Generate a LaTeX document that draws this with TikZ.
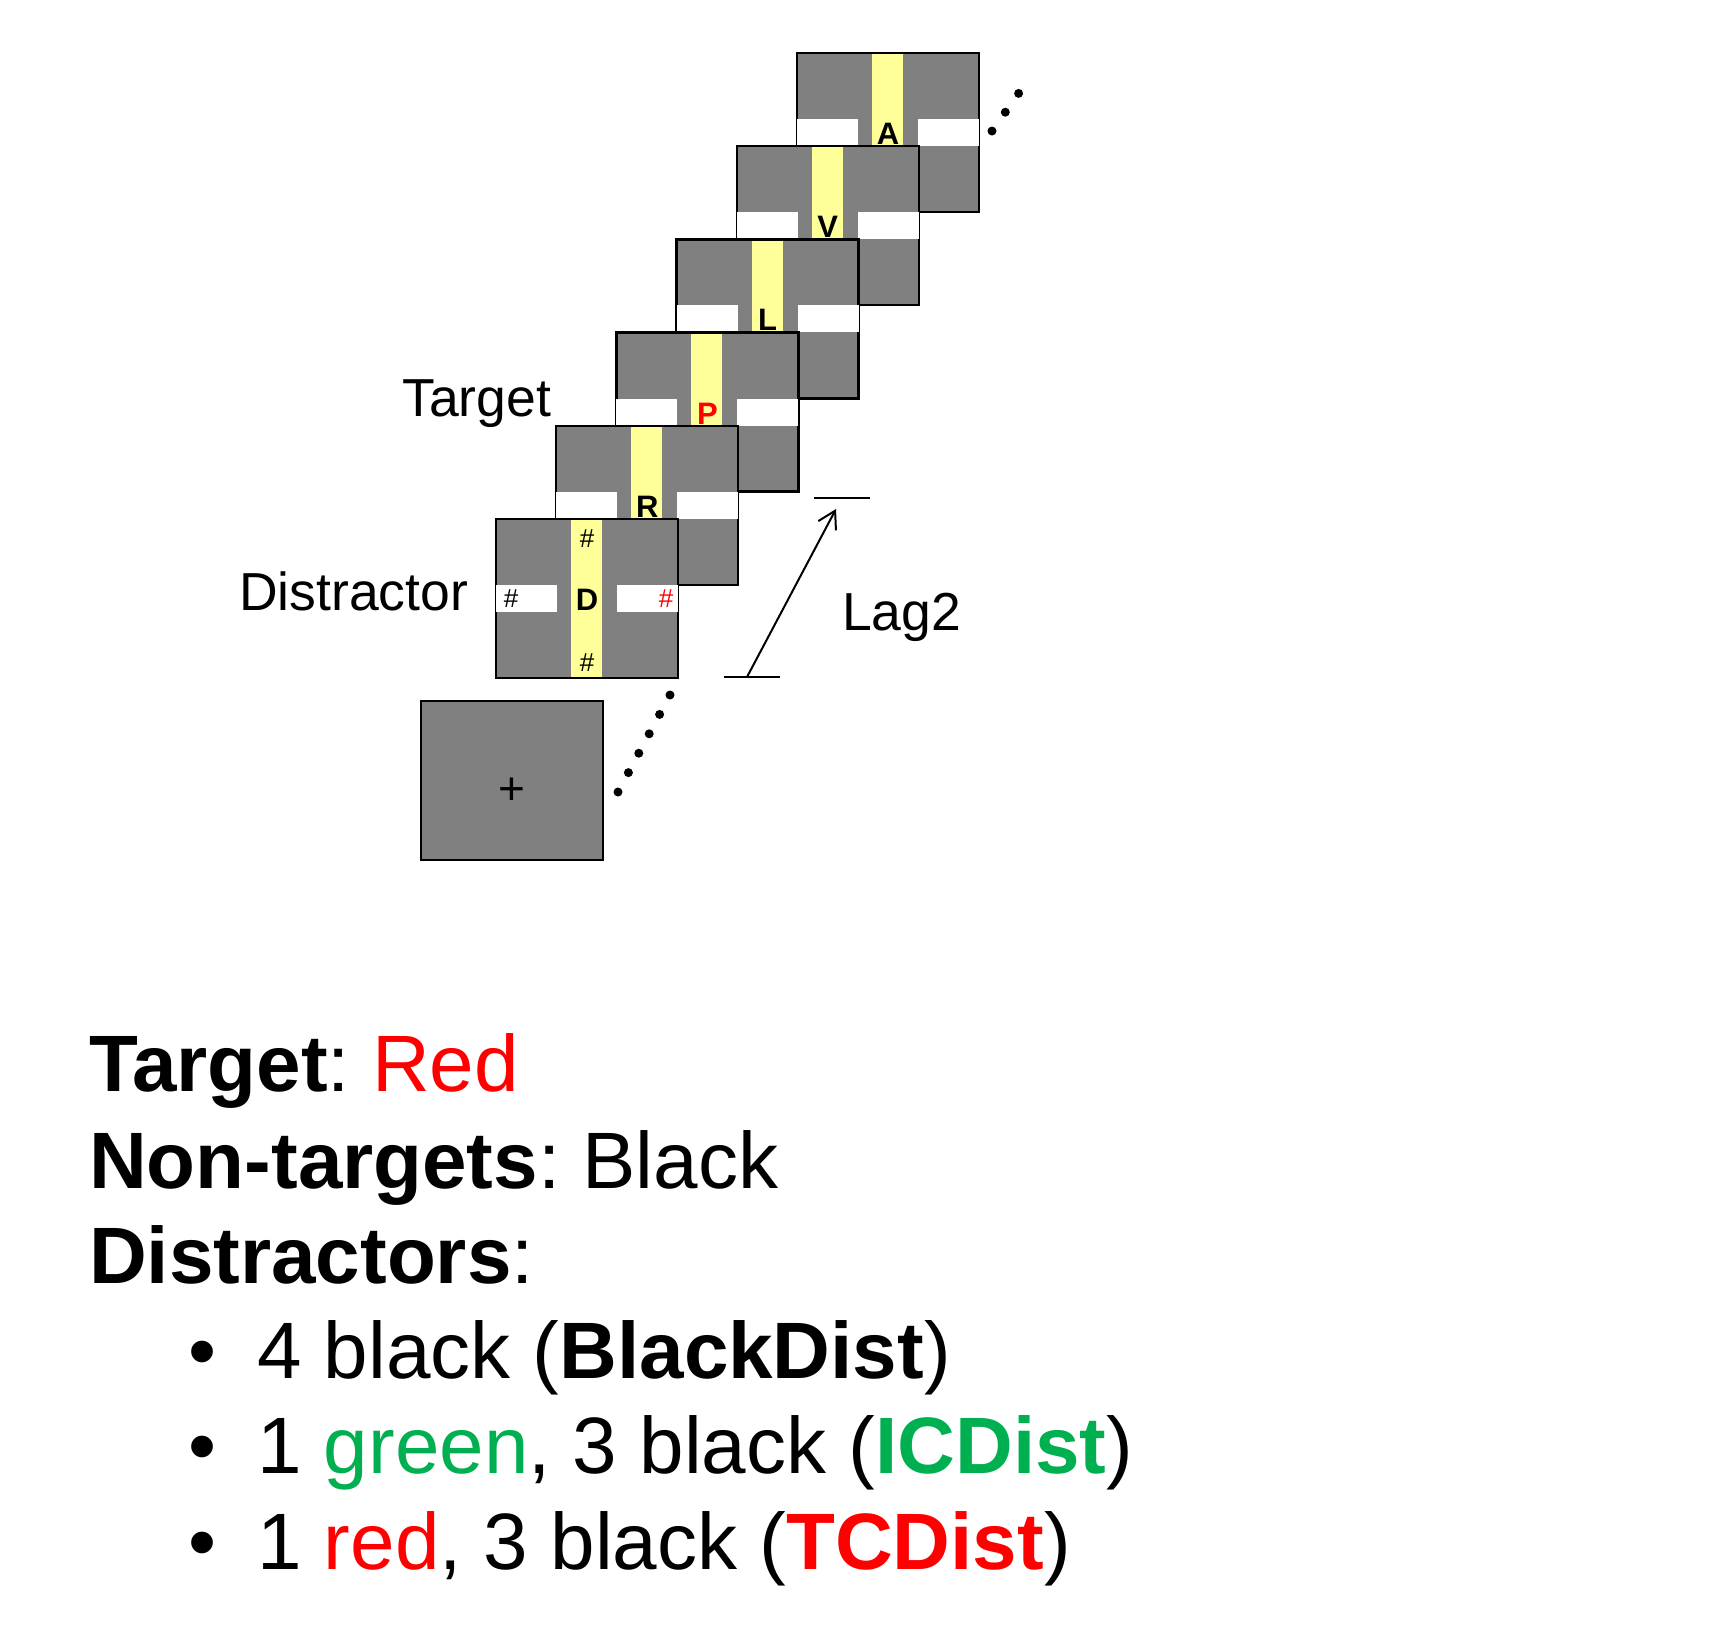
\documentclass[tikz,border=0pt]{standalone}
\usepackage{fontspec}
\setmainfont{Liberation Sans}
\usetikzlibrary{arrows.meta}
\definecolor{panelgray}{HTML}{808080}
\definecolor{stripyellow}{HTML}{FFFF99}
\definecolor{offgreen}{HTML}{00B050}
\definecolor{pured}{HTML}{FF0000}
\newcommand{\fsz}[1]{\fontsize{#1}{#1}\selectfont}
\newcommand{\rsvpframe}[5]{%
  \begin{scope}[shift={(#1,#2)}]
    \node[panel] (#3) at (0,0) {};
    \fill[white] (0,66) rectangle (61,93);
    \fill[white] (121,66) rectangle (182,93);
    \fill[stripyellow] (75,1.25) rectangle (106,157.75);
    \node[glyph, text=#5] (#3-letter) at (91,91.5) {#4};
  \end{scope}}
\frenchspacing
\begin{document}
\begin{tikzpicture}[x=1pt,y=-1pt,
  panel/.style={draw=black, fill=panelgray, line width=2.5pt, minimum width=182pt, minimum height=159pt, inner sep=0pt, outer sep=0pt, anchor=north west},
  glyph/.style={inner sep=0pt, font=\fsz{31}\bfseries, anchor=base},
  hashmark/.style={inner sep=0pt, font=\fsz{26}},
  lbltext/.style={inner sep=0pt, font=\fsz{53.5}, anchor=base west},
  bigtext/.style={inner sep=0pt, font=\fsz{80}, anchor=base west},
  bulletmark/.style={inner sep=0pt, font=\fsz{80}, anchor=base},
  dotmark/.style={fill=black}]
\useasboundingbox (0,0) rectangle (1720,1626);

% RSVP stream, back to front
\rsvpframe{797}{53}{fA}{A}{black}
\rsvpframe{736.8}{146.2}{fV}{V}{black}
\rsvpframe{676.6}{239.4}{fL}{L}{black}
\rsvpframe{616.4}{332.6}{fP}{P}{pured}
\rsvpframe{556.2}{425.8}{fR}{R}{black}
\rsvpframe{496}{519}{fD}{D}{black}

% distractor hashes
\begin{scope}[shift={(496,519)}]
  \node[hashmark] (hT) at (91,20) {\#};
  \node[hashmark] (hB) at (91,144) {\#};
  \node[hashmark] (hL) at (15,79.5) {\#};
  \node[hashmark, text=pured] (hR) at (170,79.5) {\#};
\end{scope}

% fixation
\node[panel] (fix) at (421,701) {};
\node[inner sep=0pt, font=\fsz{46}, anchor=base] (fixcross) at (512,804) {+};

% dots
\foreach \k in {0,...,5}
  \fill[dotmark] (618+10.4*\k, 792-19.4*\k) circle (4.5);
\foreach \k in {0,1,2}
  \fill[dotmark] (992+13.3*\k, 131-18.8*\k) circle (4.5);

% labels
\node[lbltext] (tgtlbl) at (402,416) {Target};
\node[lbltext] (dstlbl) at (239,610) {Distractor};
\node[lbltext] (laglbl) at (842,630) {Lag2};

% lag arrow
\coordinate (lagB1) at (724,677);
\coordinate (lagB2) at (780,677);
\coordinate (lagT1) at (814,498);
\coordinate (lagT2) at (870,498);
\coordinate (lagS) at (747,677);
\coordinate (lagE) at (836,509);
\draw[line width=2pt] (lagB1) -- (lagB2);
\draw[line width=2pt] (lagT1) -- (lagT2);
\draw[line width=2pt, -{Straight Barb[length=17pt,width=20pt]}] (lagS) -- (lagE);

% bottom text
\node[bigtext] (ln1) at (89,1091) {{\bfseries Target}: \textcolor{pured}{Red}};
\node[bigtext] (ln2) at (89,1188) {{\bfseries Non-targets}: Black};
\node[bigtext] (ln3) at (89,1283) {{\bfseries Distractors}:};
\node[bulletmark] (b1) at (203,1378) {•};
\node[bulletmark] (b2) at (203,1473) {•};
\node[bulletmark] (b3) at (203,1569) {•};
\node[bigtext] (ln4) at (257,1378) {4 black ({\bfseries BlackDist})};
\node[bigtext] (ln5) at (257,1473) {1 \textcolor{offgreen}{green}, 3 black (\textcolor{offgreen}{\bfseries ICDist})};
\node[bigtext] (ln6) at (257,1569) {1 \textcolor{pured}{red}, 3 black (\textcolor{pured}{\bfseries TCDist})};
\end{tikzpicture}
\end{document}
